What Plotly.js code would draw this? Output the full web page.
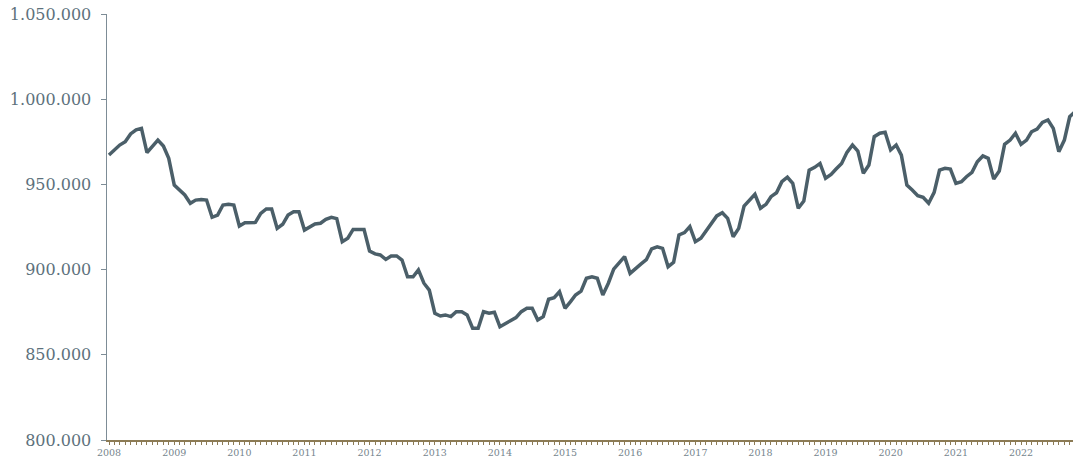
<!DOCTYPE html>
<html>
<head>
<meta charset="utf-8">
<script src="https://cdn.plot.ly/plotly-3.0.1.min.js"></script>
<style>
  html, body { margin: 0; padding: 0; background: #ffffff; }
  #chart { width: 1074px; height: 461px; }
</style>
</head>
<body>
<div id="chart"></div>
<script>
// Monthly values, in thousands (Jan..Dec of each year)
const y2008 = [967.3, 970.6, 973.1, 975.0, 979.6, 982.0, 982.9, 968.6, 972.1, 976.0, 972.5, 965.3];
const y2009 = [949.6, 946.7, 943.8, 938.9, 940.8, 941.2, 940.8, 930.7, 932.0, 937.9, 938.3, 937.9];
const y2010 = [925.6, 927.5, 927.7, 927.7, 933.0, 935.6, 935.6, 924.2, 926.6, 932.0, 934.0, 934.0];
const y2011 = [923.2, 925.2, 926.8, 927.2, 929.5, 930.7, 929.9, 916.4, 918.4, 923.6, 923.6, 923.6];
const y2012 = [910.9, 909.2, 908.6, 906.0, 908.0, 908.0, 905.6, 895.8, 895.8, 899.8, 892.0, 888.0];
const y2013 = [874.4, 872.8, 873.4, 872.4, 875.3, 875.3, 873.4, 865.6, 865.6, 875.3, 874.4, 875.0];
const y2014 = [866.5, 868.1, 870.0, 871.8, 875.3, 877.3, 877.3, 870.4, 872.4, 882.6, 883.5, 887.0];
const y2015 = [877.3, 881.2, 885.1, 887.4, 894.9, 895.8, 894.9, 885.1, 892.0, 900.3, 904.0, 907.6];
const y2016 = [897.8, 900.3, 903.2, 905.8, 912.2, 913.4, 912.5, 901.7, 904.3, 920.3, 921.7, 925.2];
const y2017 = [916.4, 918.4, 922.3, 927.2, 931.5, 933.4, 930.1, 919.3, 924.2, 937.3, 940.8, 944.2];
const y2018 = [936.0, 938.3, 942.8, 945.1, 951.6, 954.2, 950.6, 936.0, 940.3, 958.4, 960.0, 962.3];
const y2019 = [953.6, 955.9, 959.0, 962.3, 968.8, 973.1, 969.6, 956.5, 961.4, 978.0, 980.0, 980.6];
const y2020 = [970.2, 973.1, 967.2, 949.6, 946.7, 943.4, 942.4, 938.9, 945.3, 958.4, 959.4, 959.0];
const y2021 = [950.6, 951.6, 954.5, 957.1, 963.3, 966.7, 965.3, 953.2, 957.9, 973.5, 976.0, 980.0];
const y2022 = [973.5, 976.0, 980.9, 982.5, 986.4, 987.8, 982.9, 969.2, 976.0, 989.7, 992.7];

const yearTicks = ["2008","2009","2010","2011","2012","2013","2014","2015","2016","2017","2018","2019","2020","2021","2022"];
const yTickVals = [800000, 850000, 900000, 950000, 1000000, 1050000];

const yearly = [y2008,y2009,y2010,y2011,y2012,y2013,y2014,y2015,y2016,y2017,y2018,y2019,y2020,y2021,y2022];
const xs = [], ys = [];
yearly.forEach((arr, yi) => {
  arr.forEach((v, m) => {
    const mm = String(m + 1).padStart(2, '0');
    xs.push(yearTicks[yi] + '-' + mm + '-01');
    ys.push(v * 1000);
  });
});

const font = "DejaVu Serif, serif";

const trace = {
  x: xs, y: ys, type: 'scatter', mode: 'lines',
  line: { color: '#4b5f69', width: 3.5, shape: 'linear' },
  hoverinfo: 'skip'
};

const layout = {
  width: 1074, height: 461,
  margin: { l: 107, r: 1, t: 14, b: 21 },
  paper_bgcolor: '#ffffff', plot_bgcolor: '#ffffff',
  separators: ',.',
  showlegend: false,
  font: { family: font, color: '#5d717c' },
  xaxis: {
    type: 'date',
    range: ['2007-12-20 19:00', '2022-10-19 12:00'],
    tickvals: yearTicks.map(y => y + '-01-01'),
    ticktext: yearTicks,
    tickfont: { family: font, size: 9.5, color: '#76858e' },
    showgrid: false, zeroline: false,
    showline: true, linecolor: '#8c7b55', linewidth: 1.5,
    ticks: 'outside', ticklen: 3, tickcolor: '#8c7b55', tickwidth: 1,
    minor: { dtick: 'M1', tick0: '2008-01-01', ticks: 'outside', ticklen: 3, tickcolor: '#8c7b55', tickwidth: 1, showgrid: false },
    fixedrange: true
  },
  yaxis: {
    range: [800000, 1050000],
    tickvals: yTickVals,
    tickformat: ',d',
    tickfont: { family: font, size: 16, color: '#5d717c' },
    showgrid: false, zeroline: false,
    showline: true, linecolor: '#7d8c96', linewidth: 1.5,
    ticks: 'outside', ticklen: 5, tickcolor: '#7d8c96', tickwidth: 1,
    ticklabelstandoff: 6,
    fixedrange: true
  }
};

Plotly.newPlot('chart', [trace], layout, { displayModeBar: false, staticPlot: true });
</script>
</body>
</html>
